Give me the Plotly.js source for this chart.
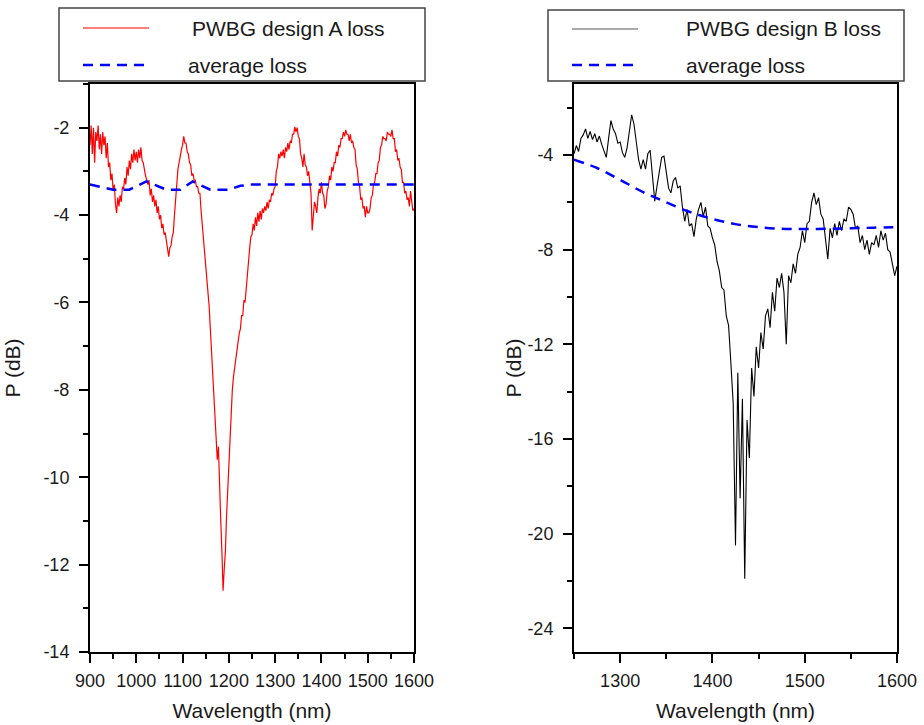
<!DOCTYPE html>
<html>
<head>
<meta charset="utf-8">
<script src="https://cdn.plot.ly/plotly-3.0.1.min.js"></script>
<style>body{margin:0;padding:0;background:#fff}#chart{width:924px;height:725px}</style>
</head>
<body>
<div id="chart"></div>
<script>
// ---- Data ----
// Design A: wavelength grid 900..1600 nm, step 2.5 nm
const lossA = [
  -2.4,-1.95,-2.6,-2.0,-2.8,-2.1,-2.3,-1.95,-2.5,-2.15,
  -2.6,-2.1,-2.4,-2.2,-2.7,-2.35,-2.9,-2.8,-3.2,-3.05,
  -3.45,-3.3,-3.75,-3.95,-3.6,-3.8,-3.55,-3.7,-3.35,-3.4,
  -3.15,-3.3,-2.9,-3.1,-2.75,-2.95,-2.6,-2.8,-2.5,-2.75,
  -2.55,-2.8,-2.5,-2.7,-2.45,-2.75,-2.8,-3.0,-3.1,-3.2,
  -3.3,-3.2,-3.55,-3.4,-3.7,-3.55,-3.8,-3.65,-3.95,-3.8,
  -4.1,-4.0,-4.3,-4.2,-4.45,-4.4,-4.6,-4.7,-4.95,-4.75,
  -4.7,-4.5,-4.4,-4.0,-3.6,-3.3,-2.95,-2.8,-2.6,-2.5,
  -2.4,-2.2,-2.35,-2.35,-2.55,-2.6,-2.8,-2.85,-3.1,-3.05,
  -3.2,-3.2,-3.35,-3.35,-3.5,-3.5,-3.9,-4.2,-4.45,-4.7,
  -5.0,-5.35,-5.7,-6.1,-6.6,-7.1,-7.6,-8.1,-8.6,-9.1,
  -9.6,-9.3,-10.4,-11.0,-11.7,-12.6,-12.1,-11.7,-10.9,-10.3,
  -9.6,-8.9,-8.4,-8.0,-7.7,-7.5,-7.3,-7.05,-6.85,-6.7,
  -6.6,-6.3,-6.3,-5.95,-6.0,-5.7,-5.3,-4.9,-4.75,-4.5,
  -4.45,-4.2,-4.35,-4.05,-4.25,-3.95,-4.15,-3.9,-4.1,-3.85,
  -3.95,-3.8,-3.9,-3.7,-3.85,-3.65,-3.7,-3.5,-3.55,-3.4,
  -3.35,-3.0,-2.9,-2.6,-2.7,-2.55,-2.65,-2.5,-2.7,-2.45,
  -2.55,-2.35,-2.5,-2.3,-2.35,-2.15,-2.15,-1.98,-2.1,-2.0,
  -2.2,-2.25,-2.6,-2.7,-2.9,-2.6,-2.85,-2.9,-3.1,-3.0,
  -3.2,-3.5,-4.35,-3.9,-3.7,-3.8,-3.95,-3.6,-3.4,-3.5,
  -3.25,-3.5,-3.55,-3.85,-3.75,-3.45,-3.35,-3.1,-3.2,-2.9,
  -3.0,-2.8,-2.8,-2.55,-2.65,-2.4,-2.45,-2.25,-2.25,-2.1,
  -2.2,-2.05,-2.15,-2.15,-2.3,-2.15,-2.35,-2.3,-2.45,-2.5,
  -2.85,-2.95,-3.25,-3.35,-3.65,-3.6,-3.85,-3.8,-4.05,-3.8,
  -3.95,-3.95,-3.85,-3.6,-3.55,-3.3,-3.25,-3.05,-3.05,-2.8,
  -2.75,-2.45,-2.4,-2.2,-2.25,-2.25,-2.3,-2.1,-2.15,-2.15,
  -2.2,-2.05,-2.25,-2.25,-2.55,-2.5,-2.75,-2.7,-2.9,-2.95,
  -3.25,-3.25,-3.5,-3.45,-3.65,-3.6,-3.8,-3.45,-3.7,-3.9,
  -3.85
];
const avgA_wl = [900, 950, 985, 1022, 1065, 1095, 1122, 1160, 1200, 1225, 1250, 1600];
const avgA    = [-3.3, -3.42, -3.42, -3.23, -3.42, -3.42, -3.23, -3.42, -3.42, -3.33, -3.3, -3.3];

// Design B: wavelength grid 1250..1600 nm, step 2.5 nm
const lossB = [
  -3.95,-3.6,-3.85,-3.3,-3.15,-2.9,-3.3,-3.0,-3.35,-3.1,
  -3.45,-3.2,-3.55,-3.85,-4.1,-3.3,-2.55,-2.9,-3.1,-3.5,
  -3.45,-3.9,-4.1,-3.7,-3.0,-2.3,-2.7,-3.4,-4.2,-4.6,
  -4.2,-4.6,-3.95,-3.8,-4.9,-5.95,-5.3,-4.6,-4.1,-4.05,
  -4.7,-5.4,-5.6,-5.1,-4.95,-5.4,-5.3,-6.2,-6.8,-6.3,
  -7.0,-6.9,-7.45,-6.7,-6.3,-6.0,-6.6,-6.2,-7.0,-7.1,
  -7.5,-7.8,-8.5,-8.9,-9.6,-9.7,-10.8,-11.2,-12.8,-14.5,
  -20.5,-13.2,-18.5,-14.3,-21.9,-15.2,-16.8,-13.0,-14.2,-12.1,
  -13.0,-11.5,-12.2,-10.8,-10.5,-11.3,-9.8,-10.6,-9.2,-9.6,
  -9.0,-9.8,-12.0,-9.1,-9.4,-8.6,-9.0,-8.2,-7.9,-7.2,
  -7.7,-6.9,-6.8,-6.0,-5.6,-6.1,-5.8,-6.5,-6.7,-7.6,
  -8.4,-7.1,-7.5,-6.9,-7.4,-6.8,-7.2,-6.7,-6.8,-6.2,
  -6.3,-6.5,-7.1,-7.0,-7.7,-7.4,-8.0,-7.6,-8.2,-7.7,
  -7.8,-7.4,-7.9,-7.2,-7.6,-7.3,-8.0,-8.1,-8.6,-9.1,
  -8.7
];
const avgB_wl = [1250, 1275, 1300, 1325, 1350, 1375, 1400, 1425, 1450, 1475, 1500, 1525, 1550, 1575, 1600];
const avgB    = [-4.2, -4.55, -5.05, -5.57, -6.0, -6.4, -6.7, -6.92, -7.05, -7.12, -7.13, -7.12, -7.1, -7.07, -7.05];

// tick labels (hyphen minus as in the reference)
const yTicksA = [-14, -12, -10, -8, -6, -4, -2];
const yTickTextA = ['-14', '-12', '-10', '-8', '-6', '-4', '-2'];
const yTicksB = [-24, -20, -16, -12, -8, -4];
const yTickTextB = ['-24', '-20', '-16', '-12', '-8', '-4'];

const nameA = 'PWBG design A loss';
const nameB = 'PWBG design B loss';
const nameAvg = 'average loss';

// wavelength grids
const wlA = lossA.map((_, i) => 900 + 2.5 * i);
const wlB = lossB.map((_, i) => 1250 + 2.5 * i);

// ---- Layout helpers (pixel -> paper) ----
const W = 924, H = 725, ML = 90, MR = 27, MT = 84, MB = 73;
const PW = W - ML - MR, PH = H - MT - MB;
const X = px => (px - ML) / PW;
const Y = py => (H - MB - py) / PH;

const FONT = 'Liberation Sans, Arial, sans-serif';
const TXT = '#1a1a1a';
const DASH = '10px,7px';

const traces = [
  {x: wlA, y: lossA, name: nameA, type: 'scatter', mode: 'lines', xaxis: 'x', yaxis: 'y',
   line: {color: '#ff0000', width: 1.2}, showlegend: false},
  {x: avgA_wl, y: avgA, name: nameAvg, type: 'scatter', mode: 'lines', xaxis: 'x', yaxis: 'y',
   line: {color: '#0000ff', width: 2.5, dash: DASH}, showlegend: false},
  {x: wlB, y: lossB, name: nameB, type: 'scatter', mode: 'lines', xaxis: 'x2', yaxis: 'y2',
   line: {color: '#000000', width: 1.1}, showlegend: false},
  {x: avgB_wl, y: avgB, name: nameAvg, type: 'scatter', mode: 'lines', xaxis: 'x2', yaxis: 'y2',
   line: {color: '#0000ff', width: 2.5, dash: DASH, shape: 'spline'}, showlegend: false}
];

const axBase = {
  showline: true, mirror: true, linecolor: '#000', linewidth: 2,
  ticks: 'outside', ticklen: 9, tickwidth: 2, tickcolor: '#000',
  showgrid: false, zeroline: false,
  tickfont: {family: FONT, size: 18, color: TXT}
};
const minorTicks = d => ({ticks: 'outside', ticklen: 5, tickwidth: 2, tickcolor: '#000', tickmode: 'linear', tick0: 0, dtick: d});
const titleFont = {family: FONT, size: 21, color: TXT};

const layout = {
  width: W, height: H,
  margin: {l: ML, r: MR, t: MT, b: MB, pad: 0},
  paper_bgcolor: '#fff', plot_bgcolor: '#fff',
  font: {family: FONT, color: TXT},
  showlegend: false,
  xaxis: Object.assign({}, axBase, {
    domain: [0, X(414)], range: [900, 1600], tickmode: 'linear', tick0: 0, dtick: 100,
    ticklabelstandoff: 2, minor: minorTicks(50),
    title: {text: 'Wavelength (nm)', font: titleFont, standoff: 14},
    anchor: 'y'
  }),
  yaxis: Object.assign({}, axBase, {
    domain: [0, 1], range: [-14, -1], tickmode: 'array', tickvals: yTicksA, ticktext: yTickTextA,
    ticklabelstandoff: 6, minor: minorTicks(1),
    title: {text: 'P (dB)', font: titleFont, standoff: 17},
    anchor: 'x'
  }),
  xaxis2: Object.assign({}, axBase, {
    domain: [X(574), 1], range: [1250, 1600], tickmode: 'linear', tick0: 0, dtick: 100,
    ticklabelstandoff: 2, minor: minorTicks(50),
    title: {text: 'Wavelength (nm)', font: titleFont, standoff: 14},
    anchor: 'y2'
  }),
  yaxis2: Object.assign({}, axBase, {
    domain: [0, 1], range: [-25, -1], tickmode: 'array', tickvals: yTicksB, ticktext: yTickTextB,
    ticklabelstandoff: 6, minor: minorTicks(2),
    title: {text: 'P (dB)', font: titleFont, standoff: 0},
    anchor: 'x2'
  }),
  shapes: [
    // legend A box
    {type: 'rect', xref: 'paper', yref: 'paper', x0: X(59), x1: X(425), y0: Y(81), y1: Y(8),
     line: {color: '#444', width: 1.5}, fillcolor: 'rgba(255,255,255,1)', layer: 'above'},
    {type: 'line', xref: 'paper', yref: 'paper', x0: X(83), x1: X(149), y0: Y(28), y1: Y(28),
     line: {color: '#ff0000', width: 1.2}},
    {type: 'line', xref: 'paper', yref: 'paper', x0: X(83), x1: X(149), y0: Y(65), y1: Y(65),
     line: {color: '#0000ff', width: 2.5, dash: DASH}},
    // legend B box
    {type: 'rect', xref: 'paper', yref: 'paper', x0: X(548), x1: X(904), y0: Y(81), y1: Y(10),
     line: {color: '#444', width: 1.5}, fillcolor: 'rgba(255,255,255,1)', layer: 'above'},
    {type: 'line', xref: 'paper', yref: 'paper', x0: X(572), x1: X(638), y0: Y(29), y1: Y(29),
     line: {color: '#555', width: 1.2}},
    {type: 'line', xref: 'paper', yref: 'paper', x0: X(572), x1: X(638), y0: Y(65), y1: Y(65),
     line: {color: '#0000ff', width: 2.5, dash: DASH}}
  ],
  annotations: [
    {xref: 'paper', yref: 'paper', x: X(190), y: Y(29), xanchor: 'left', yanchor: 'middle', showarrow: false,
     text: nameA, font: {family: FONT, size: 21, color: TXT}},
    {xref: 'paper', yref: 'paper', x: X(186), y: Y(65), xanchor: 'left', yanchor: 'middle', showarrow: false,
     text: nameAvg, font: {family: FONT, size: 21, color: TXT}},
    {xref: 'paper', yref: 'paper', x: X(684), y: Y(29), xanchor: 'left', yanchor: 'middle', showarrow: false,
     text: nameB, font: {family: FONT, size: 21, color: TXT}},
    {xref: 'paper', yref: 'paper', x: X(684), y: Y(65), xanchor: 'left', yanchor: 'middle', showarrow: false,
     text: nameAvg, font: {family: FONT, size: 21, color: TXT}}
  ]
};

Plotly.newPlot('chart', traces, layout, {staticPlot: true, displayModeBar: false});
</script>
</body>
</html>
